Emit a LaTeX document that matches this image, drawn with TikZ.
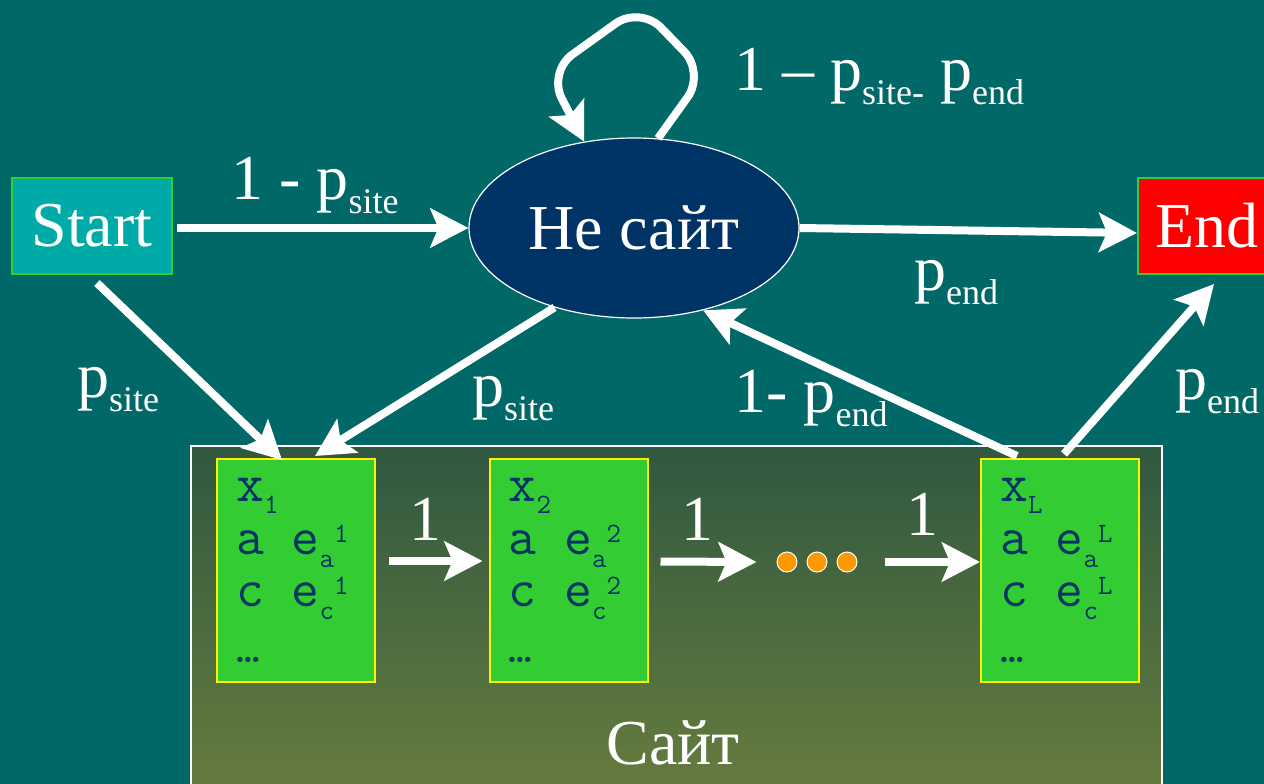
\documentclass[tikz,border=0pt]{standalone}
\usepackage{fontspec}
\setmainfont{Liberation Serif}
\usetikzlibrary{arrows.meta,shapes.geometric,calc}

\definecolor{bgteal}{RGB}{0,104,102}
\definecolor{startfill}{RGB}{0,170,166}
\definecolor{nodegreen}{RGB}{51,204,51}
\definecolor{navy}{RGB}{0,51,102}
\definecolor{sitetop}{RGB}{48,88,64}
\definecolor{sitebot}{RGB}{102,124,62}
\definecolor{dotorange}{RGB}{255,153,0}

% label helpers: subscripts on the probabilities
\newcommand\lsub[1]{\raisebox{-14pt}{\fontsize{36}{36}\selectfont #1}}
% emission-table fonts
\newcommand\mnorm{\fontsize{54}{54}\selectfont}
\newcommand\msmall{\fontsize{28}{28}\selectfont}
\newcommand\emis[2]{e\raisebox{-13pt}{\msmall #1}\raisebox{12pt}{\msmall #2}}

% one state of the site model: a green box with its emission list
\newcommand\sitestate[3]{%
  \node[statebox] (#1) at (#2,570.5) {};
  \node[monotext] (#1x) at ($(#1.north west)+(20,43)$) {x\raisebox{-12pt}{\msmall #3}};
  \node[monotext] (#1a) at ($(#1.north west)+(20,96)$) {a \emis{a}{#3}};
  \node[monotext] (#1c) at ($(#1.north west)+(20,148)$) {c \emis{c}{#3}};
  \node[monotext] (#1d) at ($(#1.north west)+(20,204)$) {\fontsize{46}{46}\selectfont …};
}

\begin{document}
\begin{tikzpicture}[x=1pt,y=-1pt,
  lbl/.style={text=white, font=\fontsize{64}{64}\selectfont, inner sep=0pt, anchor=base west},
  onelbl/.style={lbl, anchor=base},
  flow/.style={draw=white, line width=8pt, -{Stealth[length=38pt,width=39pt,inset=8pt]}},
  termbox/.style={rectangle, draw=nodegreen, line width=2pt, inner sep=0pt,
    minimum height=96pt, text=white, font=\fontsize{64}{64}\selectfont},
  statebox/.style={rectangle, fill=nodegreen, draw=yellow, line width=2pt,
    minimum width=158pt, minimum height=223pt, inner sep=0pt},
  monotext/.style={anchor=base west, inner sep=0pt, text=navy, font=\ttfamily\mnorm},
  dotnode/.style={circle, fill=dotorange, draw=white, line width=1pt,
    minimum size=20pt, inner sep=0pt}]

\useasboundingbox (0,0) rectangle (1264,784);
\fill[bgteal] (0,0) rectangle (1264,784);

% the site region
\node[rectangle, top color=sitetop, bottom color=sitebot, draw=white, line width=1.5pt,
  minimum width=971pt, minimum height=344pt, inner sep=0pt] (site) at (676.5,618) {};
\node[lbl, anchor=base] (sitelbl) at (673,764) {Сайт};

% terminal and background states
\node[termbox, fill=startfill, minimum width=160pt] (st) at (92,226) {Start};
\node[termbox, fill=red, minimum width=138pt] (en) at (1207,226) {End};
\node[ellipse, fill=navy, draw=white, line width=1.2pt, minimum width=330pt,
  minimum height=180pt, inner sep=0pt, text=white, font=\fontsize{64}{64}\selectfont]
  (ne) at (634,228) {Не сайт};

% site states
\sitestate{b1}{296}{1}
\sitestate{b2}{568.5}{2}
\sitestate{b3}{1060}{L}

\node[dotnode] (d1) at (787,562) {};
\node[dotnode] (d2) at (817,562) {};
\node[dotnode] (d3) at (847,562) {};

% transitions
\draw[flow] ($(st.east)+(4,2)$) -- (ne.west);
\draw[flow] (ne.east) -- ($(en.west)+(0,7)$);
\draw[flow, rounded corners=30pt] (ne.75) -- (705,73) -- (640,6) -- (548,72) -- (ne.120);
\draw[flow] ($(st.south)+(5,8)$) -- ($(b1.north)+(-14,2)$);
\draw[flow] (ne.225) -- ($(b1.north)+(19,-2)$);
\draw[flow] ($(b3.north)+(-43,-2)$) -- (ne.-50);
\draw[flow] ($(b3.north)+(4,-4)$) -- ($(en.south)+(7,9)$);
\draw[flow] ($(b1.east)+(13,-9.5)$) -- ($(b2.west)+(-6,-9.5)$);
\draw[flow] ($(b2.east)+(12,-9)$) -- ($(d1.west)+(-20,0)$);
\draw[flow] ($(d3.east)+(27,0)$) -- ($(b3.west)+(0,-8.5)$);

% transition probabilities
\node[lbl] (l1) at (231,199) {1 - p\lsub{site}};
\node[lbl] (l2) at (734,90) {1 – p\lsub{site-} p\lsub{end}};
\node[lbl] (l3) at (914,290) {p\lsub{end}};
\node[lbl] (l4) at (77,397) {p\lsub{site}};
\node[lbl] (l5) at (472,406) {p\lsub{site}};
\node[lbl] (l6) at (734,412) {1- p\lsub{end}};
\node[lbl] (l7) at (1175,399) {p\lsub{end}};
\node[onelbl] (o1) at (425,540) {1};
\node[onelbl] (o2) at (697,540) {1};
\node[onelbl] (o3) at (922,535) {1};
\end{tikzpicture}
\end{document}
